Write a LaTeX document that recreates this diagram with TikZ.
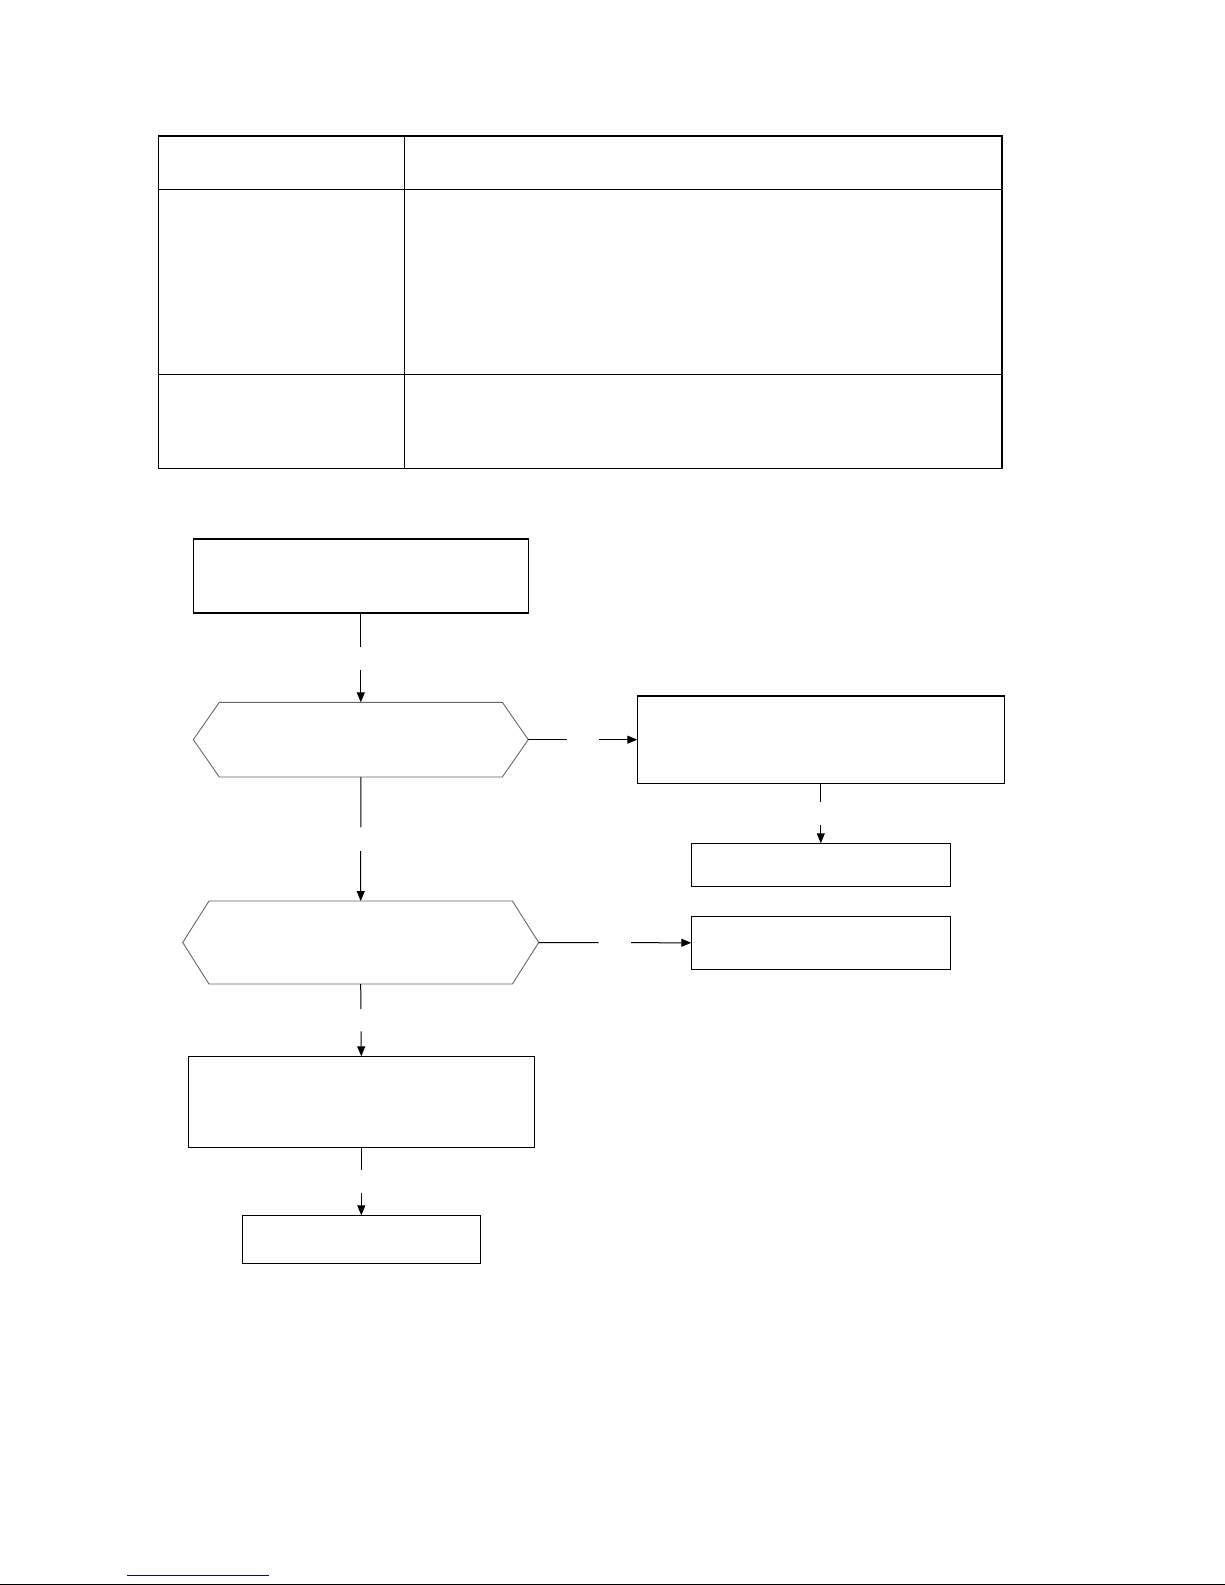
\documentclass[tikz,border=0pt]{standalone}
\usepackage{amsmath}
\usepackage{tikz}
\usetikzlibrary{arrows.meta}

\begin{document}
\begin{tikzpicture}[x=1pt,y=-1pt,
    box/.style={draw,line width=1.3pt,outer sep=0pt,inner sep=0pt},
    hexbox/.style={inner sep=0pt,outer sep=0pt},
    hexline/.style={draw=black!60,line width=0.9pt},
    flow/.style={line width=1pt,-{Triangle[length=10pt,width=8pt]}}]
        \useasboundingbox (0,0) rectangle (1225,1585);
        \draw[line width=1.4pt] (158.3,136) rectangle (1002,468.3);
        \draw[line width=1.4pt] (404.3,136)--(404.3,468.3);
        \draw[line width=1.4pt] (158.3,189.3)--(1002,189.3);
        \draw[line width=1.4pt] (158.3,374.3)--(1002,374.3);
        \node[box,minimum width=335pt,minimum height=74pt] (start) at (360.8,576) {};
        \node[hexbox,minimum width=335pt,minimum height=74.7pt] (ask1) at (360.8,739.65) {};
        \draw[hexline] (ask1.west)--([xshift=26pt]ask1.north west)--([xshift=-26pt]ask1.north east)
        --(ask1.east)--([xshift=-26pt]ask1.south east)--([xshift=26pt]ask1.south west)--cycle;
        \node[hexbox,minimum width=356pt,minimum height=83pt] (ask2) at (360.7,942.5) {};
        \draw[hexline] (ask2.west)--([xshift=26.3pt]ask2.north west)--([xshift=-26.3pt]ask2.north east)
        --(ask2.east)--([xshift=-26.3pt]ask2.south east)--([xshift=26.3pt]ask2.south west)--cycle;
        \node[box,minimum width=367pt,minimum height=87.3pt] (yes1) at (820.8,739.65) {};
        \node[box,minimum width=259pt,minimum height=43pt] (end1) at (820.8,864.8) {};
        \node[box,minimum width=259pt,minimum height=53pt] (yes2) at (820.8,942.8) {};
        \node[box,minimum width=346pt,minimum height=91pt] (no2) at (361.3,1101.8) {};
        \node[box,minimum width=238pt,minimum height=48pt] (end2) at (361.3,1239.3) {};
        \draw[flow,dash pattern=on 34pt off 22.6pt on 200pt] (start.south)--(ask1.north);
        \draw[flow,dash pattern=on 50.3pt off 23.7pt on 200pt] (ask1.south)--(ask2.north);
        \draw[flow,dash pattern=on 38.4pt off 32.3pt on 200pt] (ask1.east)--(yes1.west);
        \draw[flow,dash pattern=on 18.4pt off 23.3pt on 200pt] (yes1.south)--(end1.north);
        \draw[flow,dash pattern=on 60pt off 32.3pt on 200pt] (ask2.east)--(yes2.west);
        \draw[flow,dash pattern=on 25pt off 22.3pt on 200pt] (ask2.south)--(no2.north);
        \draw[flow,dash pattern=on 22.4pt off 23pt on 200pt] (no2.south)--(end2.north);
        \draw[line width=1.3pt,blue!80!black] (127,1575.3)--(268.7,1575.3);
        \draw[line width=1pt] (0,1584.5)--(1225,1584.5);
      \end{tikzpicture}
\end{document}
